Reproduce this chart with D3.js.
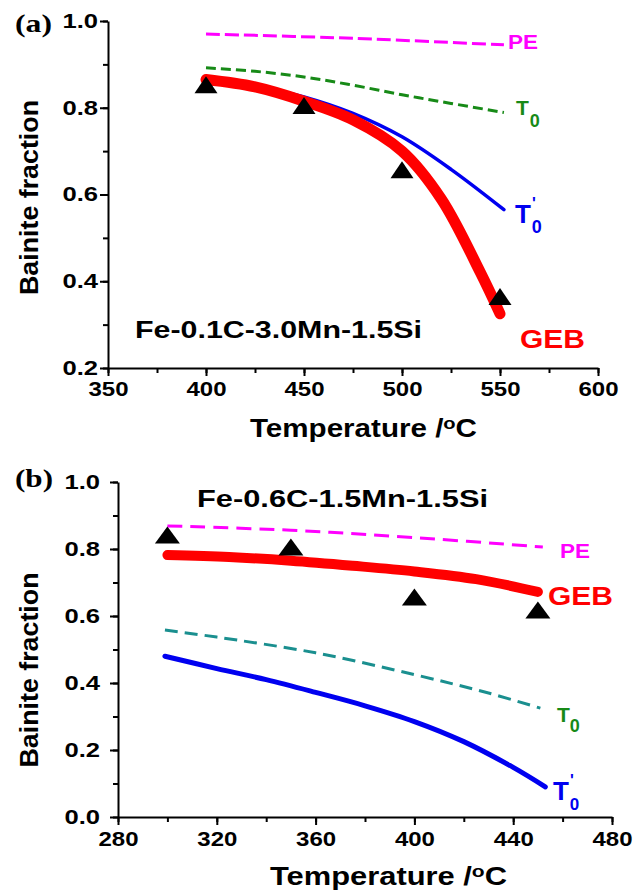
<!DOCTYPE html>
<html><head><meta charset="utf-8">
<script src="https://cdn.jsdelivr.net/npm/d3@7/dist/d3.min.js"></script>
<style>
body{margin:0;background:#fff}
svg{display:block}
text{font-family:"Liberation Sans",Arial,sans-serif;font-weight:bold}
</style></head><body>
<svg id="chart" width="644" height="891"></svg>
<script>
// ---------- Panel (a) data: Fe-0.1C-3.0Mn-1.5Si ----------
const aXTicks = [350, 400, 450, 500, 550, 600];
const aYTicks = [0.2, 0.4, 0.6, 0.8, 1.0];
const aPE_T = [400, 475, 552];
const aPE_V = [0.970, 0.960, 0.945];
const aT0_T = [400, 425, 450, 475, 500, 525, 552];
const aT0_V = [0.892, 0.884, 0.871, 0.852, 0.830, 0.810, 0.789];
const aT0p_T = [400, 425, 450, 475, 500, 525, 552];
const aT0p_V = [0.865, 0.851, 0.825, 0.787, 0.733, 0.658, 0.565];
const aGEB_T = [400, 425, 450, 475, 500, 520, 540, 550];
const aGEB_V = [0.865, 0.848, 0.815, 0.772, 0.700, 0.590, 0.420, 0.325];
const aExp_T = [400, 450, 500, 550];
const aExp_V = [0.853, 0.805, 0.657, 0.365];

// ---------- Panel (b) data: Fe-0.6C-1.5Mn-1.5Si ----------
const bXTicks = [280, 320, 360, 400, 440, 480];
const bYTicks = [0.0, 0.2, 0.4, 0.6, 0.8, 1.0];
const bPE_T = [300, 350, 400, 452];
const bPE_V = [0.869, 0.856, 0.834, 0.806];
const bT0_T = [299, 320, 360, 400, 430, 451];
const bT0_V = [0.558, 0.537, 0.490, 0.425, 0.370, 0.325];
const bT0p_T = [299, 320, 340, 360, 380, 400, 420, 440, 453];
const bT0p_V = [0.480, 0.443, 0.410, 0.372, 0.332, 0.285, 0.225, 0.148, 0.090];
const bGEB_T = [300, 325, 350, 375, 400, 425, 450];
const bGEB_V = [0.782, 0.776, 0.765, 0.750, 0.733, 0.710, 0.672];
const bExp_T = [300, 350, 400, 450];
const bExp_V = [0.842, 0.806, 0.657, 0.618];

const svg = d3.select("#chart");

function stretchTo(sel, width) {
  sel.attr("textLength", width).attr("lengthAdjust", "spacingAndGlyphs");
}
function stretchBy(sel, f) {
  sel.each(function () {
    const w = this.getComputedTextLength();
    this.setAttribute("textLength", w * f);
    this.setAttribute("lengthAdjust", "spacingAndGlyphs");
  });
}
const zip = (t, v) => t.map((d, i) => [d, v[i]]);

function panel(cfg) {
  const g = svg.append("g");
  const x = d3.scaleLinear().domain(cfg.xDomain).range(cfg.xRange);
  const y = d3.scaleLinear().domain(cfg.yDomain).range(cfg.yRange);

  // minor ticks
  const xMinor = d3.range(cfg.xDomain[0], cfg.xDomain[1] + 0.001, cfg.xMinorStep);
  const yMinor = d3.range(cfg.yDomain[0], cfg.yDomain[1] + 0.0001, 0.1);
  g.append("g").attr("transform", `translate(0,${cfg.yRange[0]})`)
    .call(d3.axisBottom(x).tickValues(xMinor).tickSize(5).tickFormat(""))
    .call(s => s.select(".domain").remove())
    .call(s => s.selectAll("line").attr("stroke", "#000").attr("stroke-width", 2));
  g.append("g").attr("transform", `translate(${cfg.xRange[0]},0)`)
    .call(d3.axisLeft(y).tickValues(yMinor).tickSize(5).tickFormat(""))
    .call(s => s.select(".domain").remove())
    .call(s => s.selectAll("line").attr("stroke", "#000").attr("stroke-width", 2));

  // major axes
  const xa = g.append("g").attr("transform", `translate(0,${cfg.yRange[0]})`)
    .call(d3.axisBottom(x).tickValues(cfg.xTicks).tickSize(8).tickSizeOuter(0).tickPadding(cfg.xPad).tickFormat(d3.format("d")));
  const ya = g.append("g").attr("transform", `translate(${cfg.xRange[0]},0)`)
    .call(d3.axisLeft(y).tickValues(cfg.yTicks).tickSize(8).tickSizeOuter(0).tickPadding(cfg.yPad).tickFormat(d3.format(".1f")));
  [xa, ya].forEach(a => {
    a.select(".domain").attr("stroke", "#000").attr("stroke-width", 2);
    a.selectAll("line").attr("stroke", "#000").attr("stroke-width", 2);
    a.selectAll("text").attr("fill", "#000").attr("font-size", 20)
      .style("font-family", '"Liberation Sans",Arial,sans-serif').style("font-weight", "bold");
  });
  stretchBy(xa.selectAll("text"), 1.2);
  stretchBy(ya.selectAll("text"), 1.28);

  const line = d3.line().x(d => x(d[0])).y(d => y(d[1])).curve(d3.curveCatmullRom.alpha(0.5));

  // PE
  g.append("path").attr("d", line(zip(cfg.PE[0], cfg.PE[1])))
    .attr("fill", "none").attr("stroke", "#ff00ff").attr("stroke-width", 3)
    .attr("stroke-dasharray", cfg.peDash);
  // T0
  g.append("path").attr("d", line(zip(cfg.T0[0], cfg.T0[1])))
    .attr("fill", "none").attr("stroke", cfg.t0Color).attr("stroke-width", 3)
    .attr("stroke-dasharray", cfg.t0Dash);
  // T0'
  g.append("path").attr("d", line(zip(cfg.T0p[0], cfg.T0p[1])))
    .attr("fill", "none").attr("stroke", "#0000f0").attr("stroke-width", cfg.blueW)
    .attr("stroke-linecap", "round");
  // GEB
  g.append("path").attr("d", line(zip(cfg.GEB[0], cfg.GEB[1])))
    .attr("fill", "none").attr("stroke", "#ff0000").attr("stroke-width", cfg.redW)
    .attr("stroke-linecap", "round").attr("stroke-linejoin", "round");
  // experimental triangles
  const tw = cfg.triW / 2, th = cfg.triH / 2;
  g.selectAll("path.tri").data(zip(cfg.Exp[0], cfg.Exp[1])).enter().append("path")
    .attr("class", "tri")
    .attr("transform", d => `translate(${x(d[0])},${y(d[1])})`)
    .attr("d", `M0,${-th}L${tw},${th}L${-tw},${th}Z`)
    .attr("fill", "#000");
  return g;
}

panel({
  xDomain: [350, 600], xRange: [108, 598], yDomain: [0.2, 1.0], yRange: [368, 21],
  xTicks: aXTicks, yTicks: aYTicks, xMinorStep: 25, xPad: 6, yPad: 2,
  PE: [aPE_T, aPE_V], T0: [aT0_T, aT0_V], T0p: [aT0p_T, aT0p_V], GEB: [aGEB_T, aGEB_V], Exp: [aExp_T, aExp_V],
  peDash: "14,5", t0Dash: "10,5", t0Color: "#178a17", blueW: 3.5, redW: 11, triW: 23, triH: 17
});
panel({
  xDomain: [280, 480], xRange: [118, 612], yDomain: [0, 1.0], yRange: [817, 482],
  xTicks: bXTicks, yTicks: bYTicks, xMinorStep: 20, xPad: 7, yPad: 10,
  PE: [bPE_T, bPE_V], T0: [bT0_T, bT0_V], T0p: [bT0p_T, bT0p_V], GEB: [bGEB_T, bGEB_V], Exp: [bExp_T, bExp_V],
  peDash: "15,8", t0Dash: "13,7", t0Color: "#1a8f8f", blueW: 5, redW: 10, triW: 25, triH: 17
});

// ---------- texts ----------
function txt(x, y, s, size, color, opts = {}) {
  const t = svg.append("text").attr("x", x).attr("y", y).attr("font-size", size)
    .attr("fill", color).text(s);
  if (opts.anchor) t.attr("text-anchor", opts.anchor);
  if (opts.family) t.style("font-family", opts.family);
  if (opts.len) stretchTo(t, opts.len);
  return t;
}
// panel letters
txt(15, 32, "(a)", 26, "#000", {family: '"Liberation Serif","Times New Roman",serif', len: 37});
txt(15, 487, "(b)", 26, "#000", {family: '"Liberation Serif","Times New Roman",serif', len: 38});

// axis titles
function xTitle(x0, base, len) {
  const t = svg.append("text").attr("x", x0).attr("y", base).attr("font-size", 25).attr("fill", "#000");
  t.append("tspan").text("Temperature /");
  t.append("tspan").attr("font-size", 17).attr("dy", -8).text("o");
  t.append("tspan").attr("dy", 8).text("C");
  stretchTo(t, len);
}
xTitle(250, 437, 227);
xTitle(270, 885, 237);
function yTitle(cx, cy) {
  svg.append("text").attr("transform", `translate(${cx},${cy}) rotate(-90)`)
    .attr("text-anchor", "middle").attr("font-size", 26).attr("fill", "#000")
    .attr("textLength", 195).attr("lengthAdjust", "spacingAndGlyphs")
    .text("Bainite fraction");
}
yTitle(38, 197.5);
yTitle(38, 670);

// alloy annotations
txt(135, 338, "Fe-0.1C-3.0Mn-1.5Si", 23, "#000", {len: 287});
txt(197, 507, "Fe-0.6C-1.5Mn-1.5Si", 23, "#000", {len: 291});

// series labels
txt(508, 49, "PE", 20, "#ff00ff", {len: 30});
txt(560, 558, "PE", 20, "#ff00ff", {len: 30});
txt(520, 348, "GEB", 25, "#ff0000", {len: 65});
txt(548, 605, "GEB", 25, "#ff0000", {len: 65});

function t0Label(x0, base, color, tSize, subSize, subDx, subDy, prime) {
  const t = svg.append("text").attr("x", x0).attr("y", base).attr("font-size", tSize).attr("fill", color);
  t.append("tspan").text("T");
  if (prime) {
    t.append("tspan").attr("font-size", 16).attr("dx", 1).attr("dy", -14).text("'");
    t.append("tspan").attr("font-size", subSize).attr("dx", -4).attr("dy", 14 + subDy).text("0");
  } else {
    t.append("tspan").attr("font-size", subSize).attr("dx", subDx).attr("dy", subDy).text("0");
  }
}
t0Label(516, 115, "#178a17", 21, 18, 1, 12, false);
t0Label(557, 722, "#178a17", 21, 18, 0, 10, false);
t0Label(515, 223, "#0000f0", 26, 18, 0, 10, true);
t0Label(553, 800, "#0000f0", 26, 17, 0, 10, true);
</script>
</body></html>
